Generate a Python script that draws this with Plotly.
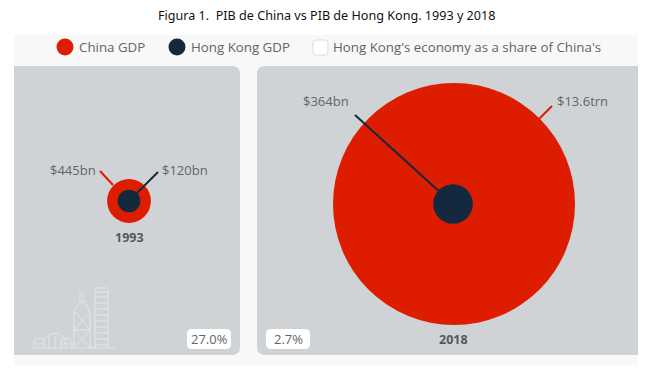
import plotly.graph_objects as go

years = ["1993", "2018"]
china_gdp_bn = [445, 13600]
hk_gdp_bn = [120, 364]
china_labels = ["$445bn", "$13.6trn"]
hk_labels = ["$120bn", "$364bn"]
share_labels = ["27.0%", "2.7%"]
legend_names = ["China GDP", "Hong Kong GDP", "Hong Kong's economy as a share of China's"]
title_text = "Figura 1.  PIB de China vs PIB de Hong Kong. 1993 y 2018"

RED, NAVY, PANEL, TXT = "#dd1c00", "#14293d", "#cfd3d6", "#636567"
FONT = "Open Sans"
centers = [(129, 201), (454, 204)]
hk_centers = [(129, 201), (453, 204)]
SIZEREF = 2 * 13600 / 242 ** 2


def rr(x0, y0, x1, y1, r, left=True, right=True):
    rl = r if left else 0
    rr_ = r if right else 0
    return (f"M{x0+rl},{y0} L{x1-rr_},{y0} Q{x1},{y0} {x1},{y0+rr_} L{x1},{y1-rr_} Q{x1},{y1} {x1-rr_},{y1} "
            f"L{x0+rl},{y1} Q{x0},{y1} {x0},{y1-rl} L{x0},{y0+rl} Q{x0},{y0} {x0+rl},{y0} Z")


shapes = [
    dict(type="rect", x0=14, x1=638, y0=35, y1=365, fillcolor="#f8f8f8", line_width=0, layer="below"),
    dict(type="path", path=rr(14, 66, 240, 355, 8, left=False), fillcolor=PANEL, line_width=0, layer="below"),
    dict(type="path", path=rr(257, 66, 638, 355, 8, right=False), fillcolor=PANEL, line_width=0, layer="below"),
    dict(type="path", path=rr(187, 329, 231, 349, 5), fillcolor="white", line_width=0, layer="below"),
    dict(type="path", path=rr(266, 329, 310, 349, 5), fillcolor="white", line_width=0, layer="below"),
    dict(type="path", path=rr(313, 40, 328, 55, 3), fillcolor="white", line=dict(color="#dddddd", width=1), layer="below"),
]

# skyline icon
SKY = dict(color="#e4e6e8", width=1)


def seg(x0, y0, x1, y1):
    shapes.append(dict(type="line", x0=x0, y0=y0, x1=x1, y1=y1, line=SKY, layer="below"))


seg(31, 348, 115, 348)
seg(95, 290, 95, 348)
seg(108, 290, 108, 348)
seg(95, 288, 108, 288)
for yy in (292, 297, 303, 309, 315, 321, 327, 333, 339, 345):
    seg(95, yy, 108, yy)
seg(80, 291, 80, 303)
seg(83, 291, 83, 303)
seg(74, 310, 83, 300)
seg(83, 300, 90, 312)
seg(74, 310, 74, 348)
seg(90, 312, 90, 348)
seg(74, 310, 90, 330)
seg(90, 312, 74, 330)
seg(74, 330, 90, 348)
seg(90, 330, 74, 348)
seg(74, 330, 90, 330)
shapes.append(dict(type="path", path="M44,348 L44,339 Q51,332 59,334 Q66,337 66,348", line=SKY, layer="below"))
shapes.append(dict(type="path", path="M34,348 L34,341 Q39,336 44,339", line=SKY, layer="below"))
shapes.append(dict(type="path", path="M61,348 L61,340 Q66,336 72,341 L72,348", line=SKY, layer="below"))
seg(49, 336, 49, 348)
seg(55, 336, 55, 348)
seg(34, 344, 44, 344)
seg(61, 344, 72, 344)

fig = go.Figure()


def bubbles(vals, cs, color):
    fig.add_trace(go.Scatter(x=[c[0] for c in cs], y=[c[1] for c in cs], mode="markers", hoverinfo="skip",
                             marker=dict(size=vals, sizemode="area", sizeref=SIZEREF, color=color, opacity=1,
                                         line=dict(width=0))))


def leader(pts, color):
    fig.add_trace(go.Scatter(x=[p[0] for p in pts], y=[p[1] for p in pts], mode="lines", hoverinfo="skip",
                             line=dict(color=color, width=2)))


bubbles(china_gdp_bn, centers, RED)
leader([(100, 171), (113, 185)], RED)
leader([(552, 106), (538, 120)], RED)
bubbles(hk_gdp_bn, hk_centers, NAVY)
leader([(158, 172), (129, 201)], NAVY)
leader([(355, 115), (453, 204)], NAVY)

# legend markers
fig.add_trace(go.Scatter(x=[65, 177], y=[47, 47], mode="markers", hoverinfo="skip",
                         marker=dict(size=17, color=[RED, NAVY], opacity=1, line=dict(width=0))))

ann = []


def txt(x, y, s, anchor="left", size=13, color=TXT, family=FONT):
    ann.append(dict(x=x, y=y, text=s, xanchor=anchor, yanchor="middle", showarrow=False,
                    font=dict(family=family, size=size, color=color), xref="x", yref="y"))


txt(326, 15, title_text, "center", 12.6, "#111111", "Noto Sans")
txt(77, 47, legend_names[0], size=13.3)
txt(189, 47, legend_names[1], size=13.3)
txt(331, 47, legend_names[2], size=13.3)
txt(98, 170, china_labels[0], "right")
txt(160, 170, hk_labels[0], "left")
txt(351, 101, hk_labels[1], "right")
txt(555, 101, china_labels[1], "left")
txt(129, 237, f"<b>{years[0]}</b>", "center", 12.5, "#55585b")
txt(453, 339, f"<b>{years[1]}</b>", "center", 12.5, "#55585b")
txt(209, 339, share_labels[0], "center")
txt(288, 339, share_labels[1], "center")

fig.update_layout(
    width=660, height=369, margin=dict(l=0, r=0, t=0, b=0), showlegend=False,
    paper_bgcolor="white", plot_bgcolor="white", shapes=shapes, annotations=ann,
    xaxis=dict(range=[0, 660], visible=False, fixedrange=True),
    yaxis=dict(range=[369, 0], visible=False, fixedrange=True),
)
fig.write_html("out.html", config={"displayModeBar": False}, default_width="660px", default_height="369px",
               full_html=True, post_script="document.body.style.margin='0';")
